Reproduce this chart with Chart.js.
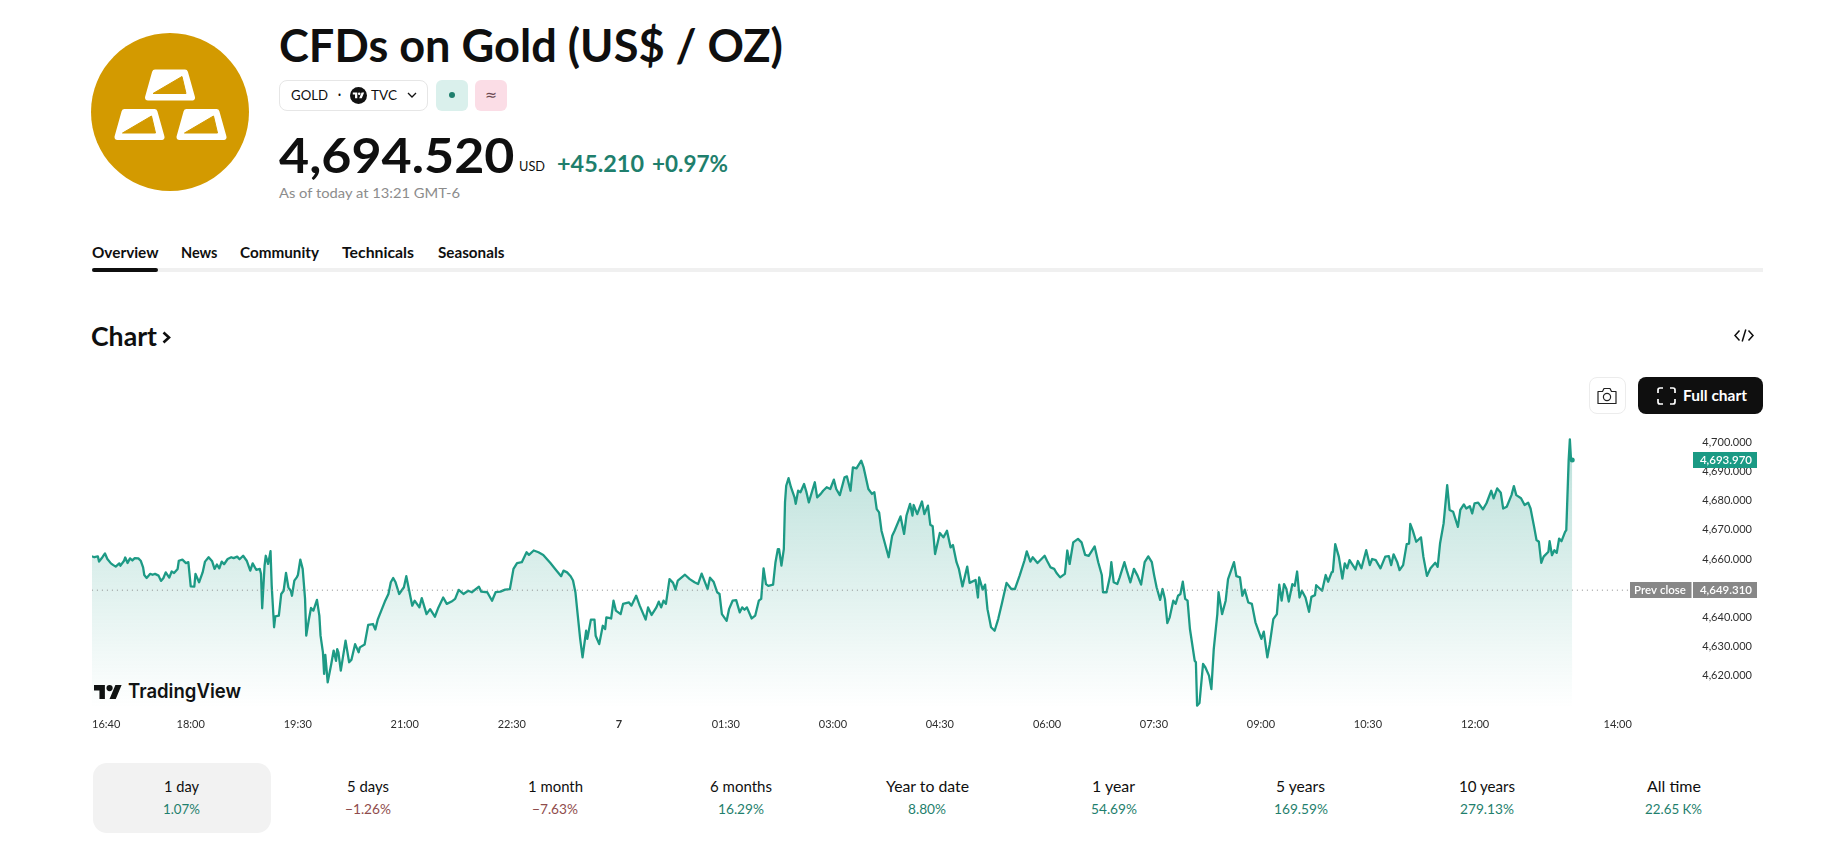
<!DOCTYPE html>
<html><head><meta charset="utf-8"><title>CFDs on Gold</title>
<script src="https://cdn.jsdelivr.net/npm/chart.js@4"></script>
<style>
html,body{margin:0;padding:0;background:#fff;width:1833px;height:852px;overflow:hidden;font-family:Lato,sans-serif;color:#0f0f0f}
.t{position:absolute;white-space:nowrap;line-height:1;transform-origin:left center}
.b{position:absolute;box-sizing:border-box}
svg{position:absolute}
canvas{position:absolute;left:0;top:420px}
</style></head><body>
<div id="page"></div>
<canvas id="c" width="1833" height="320"></canvas>
<script>
// minutes relative to 18:00 on the previous day
const minutes=[-83,-81,-78,-77,-74,-72,-70,-67,-65,-63,-60,-59,-56,-55,-53,-51,-49,-47,-44,-42,-40,-39,-37,-34,-32,-30,-27,-25,-23,-21,-18,-16,-14,-11,-10,-7,-4,-2,0,3,4,7,10,12,15,18,20,22,24,26,28,31,34,36,39,41,44,47,50,52,55,58,59,60,62,63,65,67,68,70,71,74,76,78,80,82,84,85,87,89,90,92,94,96,97,99,101,103,106,108,109,111,112,113,115,118,120,122,123,124,126,130,133,135,138,141,142,146,149,153,155,157,160,163,166,168,170,172,175,179,181,184,186,188,192,194,198,201,205,208,212,215,219,222,225,229,233,236,242,244,249,253,256,
260,264,268,271,274,278,282,284,288,292,296,302,306,311,313,316,319,321,323,325,327,329,332,333,336,339,340,343,346,348,349,353,355,357,361,363,368,370,374,377,382,384,387,391,393,395,397,399,402,405,407,409,415,419,423,426,429,432,434,436,439,442,444,446,450,452,455,458,461,463,465,467,471,474,477,479,481,483,485,489,491,493,494,496,498,499,500,502,504,507,508,510,512,515,517,519,524,526,529,531,534,537,540,542,545,549,551,554,556,559,563,565,569,572,574,576,578,580,586,589,591,596,
599,601,604,606,607,610,614,616,619,621,623,625,629,632,635,638,640,643,645,648,652,654,659,661,662,665,667,669,672,675,678,681,685,689,692,696,700,702,705,707,711,717,719,722,725,727,730,734,736,738,741,745,748,751,754,759,762,765,766,769,772,773,775,778,780,784,786,789,792,795,798,801,804,807,809,811,814,816,818,820,822,825,827,829,831,833,835,837,839,843,844,845,847,850,852,855,857,859,862,863,866,869,871,876,878,881,883,885,888,891,894,897,899,901,904,906,909,912,914,916,918,920,922,925,927,929,931,933,936,939,
941,944,945,950,953,955,958,959,961,964,967,969,971,973,978,980,983,987,990,992,995,999,1003,1006,1008,1010,1013,1015,1018,1021,1023,1024,1026,1029,1033,1035,1038,1041,1045,1047,1049,1052,1055,1057,1060,1064,1066,1069,1071,1074,1076,1078,1081,1085,1088,1092,1094,1097,1100,1102,1105,1109,1111,1113,1117,1120,1123,1125,1128,1130,1132,1134,1136,1140,1141,1143,1145,1147,1149,1151,1154,1155,1157,1158,1159,1160];
const prices=[4660.9,4660.6,4660.9,4659.1,4660.7,4661.9,4660,4658.5,4657.9,4657.4,4658.5,4657.7,4659.4,4660.5,4658.6,4660.2,4659.5,4660.3,4660.2,4659.4,4657.1,4654.5,4653.5,4654.9,4654.6,4654.9,4654.3,4652.5,4653.4,4655.4,4653.6,4655.7,4655.2,4656.6,4659.4,4659.8,4658.6,4658.9,4650.6,4650.5,4654.9,4652,4655.4,4659.1,4660.6,4659.2,4656.6,4658.1,4656.8,4659.1,4658.2,4660,4660.6,4660.3,4660.8,4659.9,4661.1,4659.4,4656,4658.5,4656.3,4656.6,4654.9,4643.1,4657.7,4661.1,4658.3,4662.7,4650.8,4636.6,4640.3,4640.6,4648,4649.1,4655.2,4650.3,4649.1,4647.4,4652.6,4653.7,4654.5,4659.8,4656.6,4646.3,4633.7,4638.8,4643.2,4642.3,4646,4640.6,4633.7,4628,4620.6,4627.1,4617.7,4624,4628.6,4625.1,4629.1,4628,4621.7,4632,4624.6,4625.5,4630.8,4628,4629.7,4630.7,4637.4,4637.7,4635.8,4639.2,4642.3,4645.4,4648,4652,4653.5,4652,4648,4650.3,4654.1,4648,4644,4645.7,4643.4,4646.6,4641.1,4642.8,4640.2,4643.4,4646.8,4644.6,4645.4,4646.3,4649.4,4648,4649.1,4648.6,4650.5,4648.8,4648.6,4645.7,4648.6,
4648.8,4649.5,4649.7,4656.6,4658.6,4658.9,4662.3,4661.4,4662.9,4662.3,4661.4,4658.6,4656.6,4654.1,4656,4655.4,4654.1,4652.6,4648.6,4640.6,4632.6,4626.3,4635.4,4632.6,4639.2,4639.2,4633.7,4630.8,4637.1,4636,4640,4639.6,4645.7,4642.3,4641.1,4644.6,4645.1,4644,4647.4,4644,4639.2,4643.4,4640.8,4643.4,4645.4,4643.4,4645.7,4644.6,4653.1,4651.8,4649.5,4652.6,4654.6,4653.1,4652,4651.4,4655,4651.8,4649.7,4653.6,4652.2,4648.6,4648,4641.1,4638.8,4642.8,4645.7,4645.9,4641.7,4643.4,4642.6,4643.4,4639.6,4640.6,4645.7,4646.3,4656.8,4651.4,4650.8,4651.2,4658.9,4663.4,4663.4,4657.7,4663.4,4679.4,4685.1,4687.7,4684.6,4681.1,4678.9,4683.4,4682.9,4685.7,4682.9,4679.4,4686.3,4681.1,4682.3,4683.4,4684.6,4684,4687.2,4684,4681.9,4688,4688.3,4683.4,4691.4,4691.1,4693.7,4691.4,4684,4682.3,4682.9,4677.1,4676,4669.7,4660.6,4668,4669.7,4674.6,
4668.6,4674.9,4678.9,4674.9,4678.5,4675.4,4679.7,4675.4,4678.3,4671.7,4671.2,4661.7,4668.9,4667.4,4669.7,4664,4664.8,4658.9,4656.6,4650.6,4657.4,4651.8,4652.8,4646.8,4653.7,4649.5,4651.2,4642.8,4636.6,4635.4,4639.4,4644.6,4651.8,4649.7,4649.7,4654.3,4659.4,4662.6,4659.1,4660.6,4658.6,4661.1,4659.4,4657.1,4656.6,4655.2,4653.7,4654.9,4662.9,4658.3,4665.7,4666.9,4665.7,4661.4,4661.1,4664.3,4658.9,4654.5,4648.6,4648.6,4654.3,4658.9,4652,4651.4,4653.7,4658.9,4656,4652,4656.6,4654.3,4651.2,4658.9,4660.9,4658.9,4654.3,4650.3,4646,4649.7,4646.3,4638,4640,4645.7,4644.6,4647.4,4648,4652.2,4646.3,4645.7,4636,4625.1,4624.6,4609.7,4610.6,4624,4622.8,4620,4615.4,4629.1,4641.1,4648.6,4641.1,4645.7,4653.1,4658.9,4654.1,4653.7,4647.4,4649.5,4645.1,4644.6,4638.3,4634.8,4632.6,4635.1,4626.3,4630.8,4639.4,4641.1,4651.2,4645.7,4651.4,4649.7,4645.4,4651.4,4650.8,4655.7,4646.8,4649.1,4646.8,4641.9,
4647,4647.6,4651,4649.1,4654.5,4652.2,4655.4,4655.6,4665.1,4660.8,4653.3,4658.5,4656.8,4659.6,4656.4,4659.3,4656.8,4663,4657.9,4660,4659.6,4656.8,4660.8,4661,4657.9,4661.6,4659,4656.2,4657.9,4665.1,4665.3,4672,4669.9,4665.9,4667.4,4660.8,4654.2,4656.8,4658.7,4657.3,4665.3,4672.2,4685.3,4676.8,4676.2,4671,4676.8,4678.7,4677.3,4678.1,4675.6,4679.1,4679.3,4677,4679.1,4683.4,4680.8,4684.2,4682.7,4677.3,4677.9,4681.9,4685,4681.9,4680.8,4678.5,4679.3,4677.3,4671,4666.5,4665.9,4658.7,4660.8,4662.5,4666.1,4661.3,4663,4662.1,4667,4666.1,4669.3,4669.9,4693.9,4701,4693.9,4693.97];
const prevClose=4649.31;
const lastPrice=4693.97;
const xTickMinutes=[-71,0,89.9,179.7,269.6,359.5,449.3,539.2,629,719,808.8,898.6,988.5,1078.4,1198.2]; // positions as placed on the source's time axis
const xTickLabels=['16:40','18:00','19:30','21:00','22:30','7','01:30','03:00','04:30','06:00','07:30','09:00','10:30','12:00','14:00'];
const yTicks=[4620,4630,4640,4650,4660,4670,4680,4690,4700];
const periodLabels=['1 day','5 days','1 month','6 months','Year to date','1 year','5 years','10 years','All time'];
const periodValues=['1.07%','−1.26%','−7.63%','16.29%','8.80%','54.69%','169.59%','279.13%','22.65\u202fK%'];
const tabLabels=['Overview','News','Community','Technicals','Seasonals'];

const page=document.getElementById('page');
const GREEN='#1f7f6d',RED='#8f4c4c';
function box(x,y,w,h,css){const d=document.createElement('div');d.className='b';d.style.cssText=`left:${x}px;top:${y}px;width:${w}px;height:${h}px;${css||''}`;page.appendChild(d);return d;}
// text: left x, cap-centre y, target width, size, weight, colour
function txt(s,x,cy,w,size,weight,color,center,family){
  const d=document.createElement('div');d.className='t';d.textContent=s;
  d.style.cssText=`left:${x}px;top:${cy}px;font-size:${size}px;font-weight:${weight};color:${color};`+(family?`font-family:${family};`:'');
  page.appendChild(d);
  const bw=d.getBoundingClientRect().width,k=w?w/bw:1;
  if(center){d.style.left=(x-(w||bw)/2)+'px';}
  d.style.transform=`translateY(-50%) scaleX(${k})`;
  return d;
}
function svg(x,y,w,h,vb,inner){
  const e=document.createElementNS('http://www.w3.org/2000/svg','svg');
  e.setAttribute('viewBox',vb);e.setAttribute('width',w);e.setAttribute('height',h);
  e.style.left=x+'px';e.style.top=y+'px';e.innerHTML=inner;page.appendChild(e);
}
const TVPATH='<path d="M14 22H7V11H0V4h14v18zM28 22h-8l7.5-18h8L28 22z"/><circle cx="20" cy="8" r="4"/>';
// logo
const GOLD='#d39a00';
function bar(ox,oy){return `<g transform="translate(${ox} ${oy})"><path d="M10 3H40L47 28H3Z" fill="#fff" stroke="#fff" stroke-width="6" stroke-linejoin="round"/><path d="M8 24L37 7L41 24Z" fill="${GOLD}" stroke="${GOLD}" stroke-linejoin="round"/></g>`;}
svg(91,33,158,158,'91 33 158 158',`<circle cx="170" cy="112" r="79" fill="${GOLD}"/>`+bar(145,69.5)+bar(114.5,109)+bar(176.5,109));
// header
txt('CFDs on Gold (US$ / OZ)',279,45,504,45,700,'#0f0f0f');
box(279,79.5,148.5,31,'border:1px solid #e6e6e6;border-radius:8px;background:#fff');
txt('GOLD',290.7,95,37,14,400,'#0f0f0f');
txt('·',337.5,94,3,14,700,'#0f0f0f');
svg(350,86.5,17,17,'0 0 17 17','<circle cx="8.5" cy="8.5" r="8.5" fill="#111"/><g transform="translate(2.8 4.1) scale(.32)" fill="#fff">'+TVPATH+'</g>');
txt('TVC',371,95,26,14,400,'#0f0f0f');
svg(406,91,12,8,'0 0 12 8','<path d="M2 2l4 4 4-4" fill="none" stroke="#111" stroke-width="1.3"/>');
box(436,79.5,32,31,'background:#daf0ec;border-radius:6px');
svg(447,90,10,10,'0 0 10 10','<circle cx="5" cy="5" r="3" fill="#1f7f6d"/>');
box(475,79.5,31.5,31,'background:#fbdde6;border-radius:6px');
txt('≈',485,95,12,15,400,'#6b4a52',false,"'DejaVu Sans'");
txt('4,694.520',278.5,154.5,235.5,47,700,'#0f0f0f');
txt('USD',519,166,26,14,400,'#0f0f0f');
txt('+45.210',557,163.5,87,22,700,GREEN);
txt('+0.97%',652,163.5,76,22,700,GREEN);
txt('As of today at 13:21 GMT-6',279,193,181,14,400,'#8c8c8c');
// tabs
const tabX=[[91.5,66.5],[181,36.5],[240,79],[342,72],[437.6,66.4]];
tabLabels.forEach((s,i)=>txt(s,tabX[i][0],252,tabX[i][1],15,700,'#0f0f0f'));
box(91.5,268,1671.5,4,'background:#f0f0f0');
box(91.5,268,66.5,4,'background:#0f0f0f;border-radius:2px');
// section header
txt('Chart',91,336,66,26,700,'#0f0f0f');
svg(161,330,11,15,'0 0 11 15','<path d="M2.5 2.5l5.5 5-5.5 5" fill="none" stroke="#0f0f0f" stroke-width="2.6"/>');
svg(1733,327,22,17,'0 0 22 17','<path d="M6.5 3.5L2 8.5l4.5 5M15.5 3.5L20 8.5l-4.5 5M12.8 2.5L9.2 14.5" fill="none" stroke="#0f0f0f" stroke-width="1.5"/>');
// buttons
box(1589,377,37,37,'border:1px solid #ececec;border-radius:8px');
svg(1597,386,20,19,'0 0 20 19','<path d="M1 5.5h4.5l1.5-3h6l1.5 3H19v12H1z" fill="none" stroke="#222" stroke-width="1.2" stroke-linejoin="round"/><circle cx="10" cy="11" r="3.6" fill="none" stroke="#222" stroke-width="1.2"/>');
box(1638,377,124.7,37,'background:#0f0f0f;border-radius:8px');
svg(1656,386,21,20,'0 0 21 20','<path d="M2 7V4a2 2 0 0 1 2-2h3M14 2h3a2 2 0 0 1 2 2v3M19 13v3a2 2 0 0 1-2 2h-3M7 18H4a2 2 0 0 1-2-2v-3" fill="none" stroke="#fff" stroke-width="1.7"/>');
txt('Full chart',1683,394.5,64,15,700,'#fff');
// TradingView mark
svg(94,684.5,28,14,'0 4 36 18','<g fill="#111">'+TVPATH+'</g>');
txt('TradingView',128,691,113,20,600,'#111',false,'Inter');
// period row
box(92.7,762.7,178,70.6,'background:#f2f2f2;border-radius:14px');
const periodX=[181.7,368,555,741,927,1113.7,1300.5,1487,1673.5];
const vw=[37,46,46,46,38,46,54,54,57],lw=[35,42,55,62,83,43,49,56,54];
periodLabels.forEach((s,i)=>{
  txt(s,periodX[i],786,lw[i],15,400,'#0f0f0f',true);
  txt(periodValues[i],periodX[i],809,vw[i],14,400,periodValues[i][0]==='−'?RED:GREEN,true);
});

if(minutes.length!==prices.length) throw new Error('len '+minutes.length+' vs '+prices.length);
const LINE='#1d9a85';
const tagPlugin={id:'tags',afterDraw(ch){
  const g=ch.ctx,y=ch.scales.y;
  g.save();g.textBaseline='middle';g.font='600 11.5px Lato';
  const tag=(x,w,v,bg,s,al,tx)=>{const py=y.getPixelForValue(v);g.fillStyle=bg;g.fillRect(x,Math.round(py)-8,w,16);g.fillStyle='#fff';g.textAlign=al;g.fillText(s,tx,Math.round(py)+.5);};
  tag(1693,64,lastPrice,'#1a9a84',lastPrice.toLocaleString('en-US',{minimumFractionDigits:3}),'right',1752);
  tag(1693,64,prevClose,'#878787',prevClose.toLocaleString('en-US',{minimumFractionDigits:3}),'right',1752);
  tag(1630,61.5,prevClose,'#878787','Prev close','center',1660);
  g.restore();
}};
new Chart(document.getElementById('c'),{
  type:'line',
  data:{datasets:[
    {data:[{x:minutes[0],y:prevClose},{x:1208,y:prevClose}],borderColor:'#8a8a8a',borderWidth:1,borderDash:[1,4],pointRadius:0,fill:false,order:0},
    {data:minutes.map((m,i)=>({x:m,y:prices[i]})),borderColor:LINE,borderWidth:2.3,tension:0,borderJoinStyle:'round',
     pointRadius:c=>c.dataIndex===minutes.length-1?2.5:0,pointBackgroundColor:LINE,pointBorderWidth:0,
     fill:'start',order:1,
     backgroundColor:c=>{const a=c.chart.chartArea;if(!a)return 'transparent';const gr=c.chart.ctx.createLinearGradient(0,a.top+6,0,a.bottom);gr.addColorStop(0,'rgba(29,154,133,.30)');gr.addColorStop(1,'rgba(29,154,133,0)');return gr;}}
  ]},
  options:{
    responsive:false,animation:false,devicePixelRatio:1,
    layout:{padding:{left:92,right:81,top:4,bottom:0}},
    plugins:{legend:{display:false},tooltip:{enabled:false}},
    scales:{
      x:{type:'linear',min:-82.9,max:1261.4,grid:{display:false},border:{display:false},
        afterBuildTicks:s=>{s.ticks=xTickMinutes.map(v=>({value:v}));},
        afterFit:s=>{s.height=32;},
        ticks:{autoSkip:false,maxRotation:0,padding:2,color:'#2e2e2e',
          font:c=>c.tick&&c.tick.value===359.5?{family:'Lato',size:11,weight:'bold'}:{family:'Lato',size:11},
          callback:v=>xTickLabels[xTickMinutes.indexOf(v)]}},
      y:{type:'linear',position:'right',min:4608.91,max:4702.3,grid:{display:false},border:{display:false},
        afterBuildTicks:s=>{s.ticks=yTicks.map(v=>({value:v}));},
        afterFit:s=>{s.width=59;},
        ticks:{autoSkip:false,crossAlign:'far',padding:9,color:'#2e2e2e',font:{family:'Lato',size:11},
          callback:v=>v.toLocaleString('en-US',{minimumFractionDigits:3})}}
    }
  },
  plugins:[tagPlugin]
});
</script></body></html>
